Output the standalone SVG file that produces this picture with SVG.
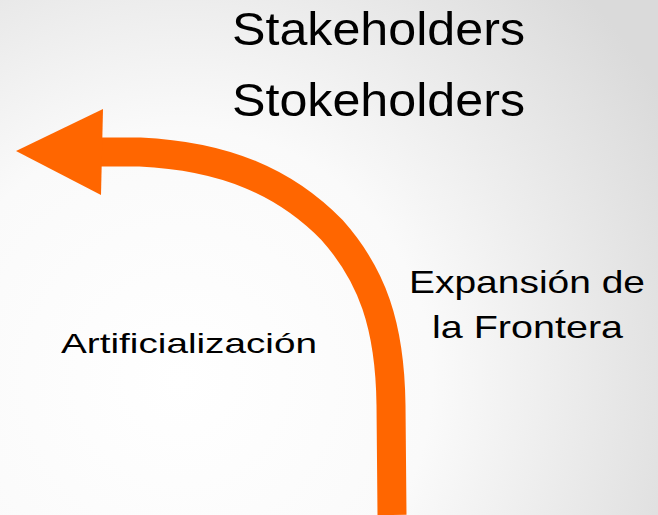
<svg xmlns="http://www.w3.org/2000/svg" width="658" height="515" viewBox="0 0 658 515">
<defs>
<radialGradient id="bg" gradientUnits="userSpaceOnUse" cx="180" cy="380" r="560">
<stop offset="0" stop-color="#ffffff"/>
<stop offset="0.45" stop-color="#fafafa"/>
<stop offset="1" stop-color="#dadada"/>
</radialGradient>
<style>
.t{font-family:"Liberation Sans",Arial,sans-serif;fill:#000;}
</style>
</defs>
<rect width="658" height="515" fill="url(#bg)"/>
<g id="connectors">
<path d="M392,515 L391,405 C390,325 372,275 332,230 C285,182 225,156 140,152 L100,152" fill="none" stroke="#ff6600" stroke-width="29"/>
<polygon points="16,151 103,109 101,195" fill="#ff6600"/>
</g>
<g id="stakeholders"><text class="t" x="232" y="45" font-size="47" textLength="293" lengthAdjust="spacingAndGlyphs">Stakeholders</text></g>
<g id="stokeholders"><text class="t" x="232" y="116" font-size="47" textLength="293" lengthAdjust="spacingAndGlyphs">Stokeholders</text></g>
<g id="expansion">
<text class="t" x="409" y="293" font-size="32" textLength="236" lengthAdjust="spacingAndGlyphs">Expansión de</text>
<text class="t" x="432" y="338" font-size="32" textLength="191" lengthAdjust="spacingAndGlyphs">la Frontera</text>
</g>
<g id="artificializacion"><text class="t" x="61" y="353" font-size="28" textLength="256" lengthAdjust="spacingAndGlyphs">Artificialización</text></g>
</svg>
